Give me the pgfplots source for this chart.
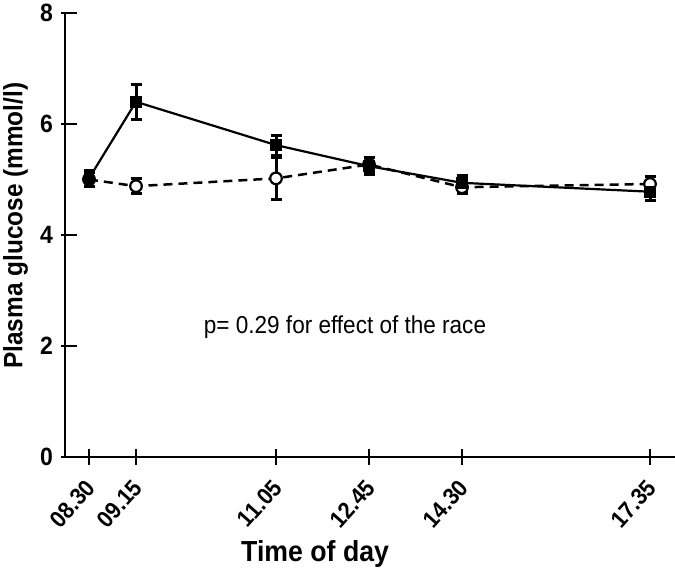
\documentclass[border=0pt]{standalone}
\usepackage{pgfplots}
\pgfplotsset{compat=1.18}
\usepackage{fontspec}
\setmainfont{Liberation Sans}
\newfontfamily\narrowfont[FakeStretch=0.92]{Liberation Sans}
\pgfplotstableread{
x y e
89 5.02 0.15
136 6.40 0.31
276 5.62 0.18
369 5.24 0.15
462 4.94 0.14
650 4.78 0.15
}\solid
\pgfplotstableread{
x y e
89 5.00 0.13
136 4.88 0.14
276 5.02 0.38
369 5.27 0.12
462 4.86 0.12
650 4.92 0.13
}\dashed
\begin{document}
\begin{tikzpicture}
\begin{axis}[name=ax,
 scale only axis, width=610bp, height=444bp,
 xmin=65, xmax=675, ymin=0, ymax=8,
 clip=false,
 axis x line*=bottom, axis y line*=left,
 axis line style={line width=2.5bp, -},
 xtick={89,136,276,369,462,650},
 xticklabels={08.30,09.15,11.05,12.45,14.30,17.35},
 ytick={0,2,4,6,8}, yticklabels={0,2,4,6,8},
 tick align=center,
 x tick style={line width=2.2bp, black},
 y tick style={line width=2.2bp, black, xshift=4bp},
 major tick length=16bp,
 xticklabel shift=20bp,
 xticklabel style={font=\narrowfont\bfseries\fontsize{23.5bp}{28bp}\selectfont, rotate=48, anchor=east, inner sep=1bp, xshift=3bp},
 yticklabel style={font=\narrowfont\bfseries\fontsize{25bp}{30bp}\selectfont, anchor=east, inner sep=0pt, xshift=-4bp},
 xlabel={Time of day},
 xlabel style={font=\narrowfont\bfseries\fontsize{29bp}{34bp}\selectfont, at={(axis description cs:0.41,-0.235)}, anchor=base},
 ylabel={Plasma glucose (mmol/l)},
 ylabel style={font=\narrowfont\bfseries\fontsize{26.5bp}{32bp}\selectfont, at={(axis description cs:-0.07,0.521)}, anchor=base, rotate=0},
]
\addplot[black, line width=2.5bp, dash pattern=on 9bp off 6bp, mark=*, mark size=5.8bp,
  mark options={solid, fill=white, line width=2.2bp},
  error bars/.cd, y dir=both, y explicit,
  error bar style={line width=3bp, solid},
  error mark options={rotate=90, mark size=5.5bp, line width=3bp, solid}]
  table[x=x, y=y, y error=e] {\dashed};
\addplot[black, line width=2.2bp, solid, mark=square*, mark size=4.8bp,
  mark indices={2,3,4,5,6},
  mark options={solid, fill=black},
  error bars/.cd, y dir=both, y explicit,
  error bar style={line width=3bp, solid},
  error mark options={rotate=90, mark size=5.5bp, line width=3bp, solid}]
  table[x=x, y=y, y error=e] {\solid};
\addplot[only marks, mark=*, mark size=6.2bp, black] coordinates {(89,5.02)};
\node[font=\narrowfont\fontsize{24.5bp}{30bp}\selectfont] at (axis cs:345,2.34) {p= 0.29 for effect of the race};
\end{axis}
\pgfresetboundingbox
\path[use as bounding box] ([xshift=-65bp,yshift=-112bp]ax.south west) rectangle ([yshift=13bp]ax.north east);
\end{tikzpicture}
\end{document}
